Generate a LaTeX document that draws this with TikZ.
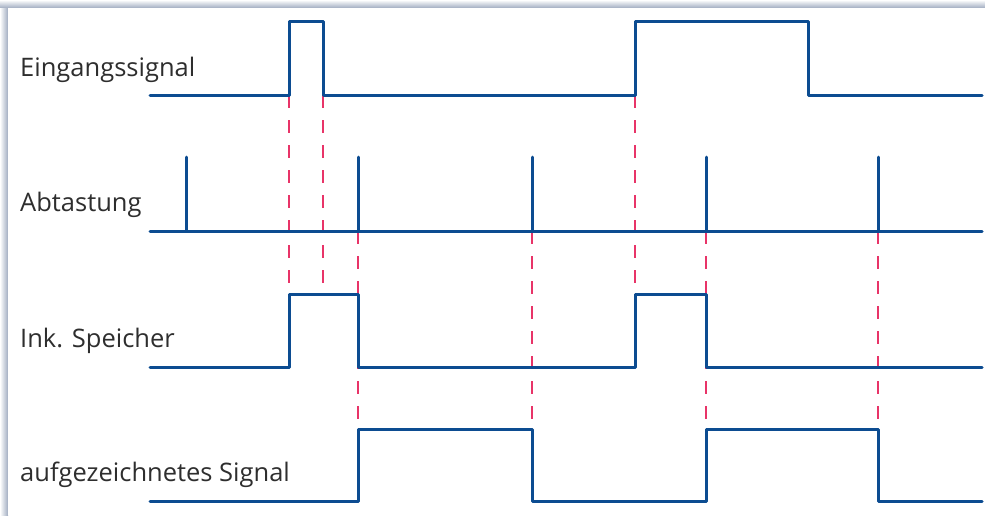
\documentclass[tikz,border=0pt]{standalone}
\usepackage{fontspec}
\setmainfont{Open Sans}
\definecolor{sig}{RGB}{12,76,145}
\definecolor{dsh}{RGB}{232,52,104}
\definecolor{shadowc}{RGB}{160,172,192}
\begin{document}
\begin{tikzpicture}[x=1pt,y=-1pt,
  sigline/.style={draw=sig,line width=3pt,line join=round,line cap=round},
  dashln/.style={draw=dsh,line width=1.6pt,dash pattern=on 13pt off 12pt},
  lbl/.style={anchor=base west,inner sep=0pt,font=\fontsize{25.5}{30}\selectfont,text=black!82}]
\useasboundingbox (0,0) rectangle (985,515);
\fill[white] (0,0) rectangle (985,515);
\shade[top color=white,bottom color=shadowc] (0,0) rectangle (985,8);
\shade[left color=white,right color=shadowc] (0,8) rectangle (8,515);
\fill[white] (8,8) rectangle (985,515);

% dashed guide lines
\draw[dashln] (289,95) -- (289,294);
\draw[dashln] (323,95) -- (323,294);
\draw[dashln] (358,231) -- (358,429);
\draw[dashln] (532,231) -- (532,429);
\draw[dashln] (635,95) -- (635,294);
\draw[dashln] (706,231) -- (706,429);
\draw[dashln] (878,231) -- (878,429);

% labels
\node[lbl] (l1) at (20,76) {Eingangssignal};
\node[lbl] (l2) at (20,211) {Abtastung};
\node[lbl] (l3) at (20,347) {Ink. Speicher};
\node[lbl] (l4) at (20,481) {aufgezeichnetes Signal};

% Eingangssignal
\draw[sigline] (150,95) -- (289,95) -- (289,21) -- (323,21) -- (323,95) -- (635,95)
  -- (635,21) -- (808,21) -- (808,95) -- (982,95);
% Abtastung
\draw[sigline] (150,231) -- (982,231);
\foreach \x in {186,358,532,706,878} \draw[sigline] (\x,231) -- (\x,157);
% Ink. Speicher
\draw[sigline] (150,367) -- (289,367) -- (289,294) -- (358,294) -- (358,367) -- (635,367)
  -- (635,294) -- (706,294) -- (706,367) -- (982,367);
% aufgezeichnetes Signal
\draw[sigline] (150,501) -- (358,501) -- (358,429) -- (532,429) -- (532,501) -- (706,501)
  -- (706,429) -- (878,429) -- (878,501) -- (982,501);
\end{tikzpicture}
\end{document}
